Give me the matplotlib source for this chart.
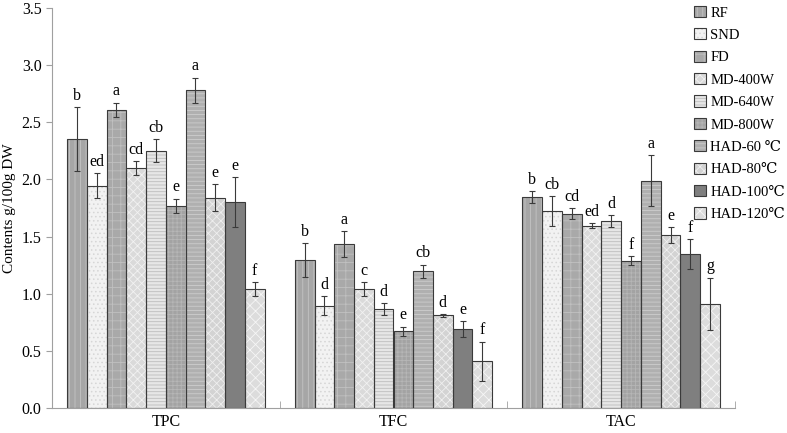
import matplotlib.pyplot as plt
from matplotlib.patches import Patch
from matplotlib.legend_handler import HandlerTuple
import numpy as np

plt.rcParams['font.family'] = ['Liberation Serif', 'DejaVu Serif']
plt.rcParams['hatch.linewidth'] = 0.6

groups = ['TPC', 'TFC', 'TAC']
methods = ['RF', 'SND', 'FD', 'MD-400W', 'MD-640W', 'MD-800W',
           'HAD-60 ℃', 'HAD-80℃', 'HAD-100℃', 'HAD-120℃']

tpc = [2.35, 1.945, 2.61, 2.10, 2.25, 1.77, 2.78, 1.84, 1.80, 1.04]
tpc_err = [0.28, 0.11, 0.06, 0.06, 0.10, 0.06, 0.11, 0.12, 0.22, 0.06]
tpc_letters = ['b', 'ed', 'a', 'cd', 'cb', 'e', 'a', 'e', 'e', 'f']

tfc = [1.295, 0.895, 1.435, 1.04, 0.865, 0.67, 1.195, 0.81, 0.69, 0.41]
tfc_err = [0.145, 0.085, 0.11, 0.06, 0.05, 0.04, 0.06, 0.01, 0.07, 0.17]
tfc_letters = ['b', 'd', 'a', 'c', 'd', 'e', 'cb', 'd', 'e', 'f']

tac = [1.845, 1.725, 1.70, 1.595, 1.635, 1.29, 1.99, 1.51, 1.345, 0.91]
tac_err = [0.05, 0.13, 0.05, 0.02, 0.05, 0.04, 0.22, 0.07, 0.13, 0.23]
tac_letters = ['b', 'cb', 'cd', 'ed', 'd', 'f', 'a', 'e', 'f', 'g']

# fill colour, hatch, hatch colour for each drying method
styles = [
    ('#a6a6a6', '|||', '#c4c4c4'),
    ('#f2f2f2', '....', '#d6d6d6'),
    ('#a9a9a9', '++', '#c0c0c0'),
    ('#dadada', 'xxxx', '#f2f2f2'),
    ('#e6e6e6', '-----', '#bdbdbd'),
    ('#a3a3a3', '++++', '#b6b6b6'),
    ('#b0b0b0', '----', '#cdcdcd'),
    ('#d3d3d3', 'xxxx', '#efefef'),
    ('#7f7f7f', '', '#7f7f7f'),
    ('#dcdcdc', 'xxx', '#f6f6f6'),
]

values = np.array([tpc, tfc, tac])
errors = np.array([tpc_err, tfc_err, tac_err])
letters = [tpc_letters, tfc_letters, tac_letters]

fig = plt.figure(figsize=(7.87, 4.33), dpi=100)
ax = fig.add_axes([0.066, 0.0577, 0.868, 0.924])

x = np.arange(len(groups))
n = len(methods)
w = 0.867 / n
handles = []
for i in range(n):
    pos = x - 0.867 / 2 + w * (i + 0.5)
    fc, hatch, hc = styles[i]
    ax.bar(pos, values[:, i], w, color=fc, hatch=hatch, edgecolor=hc, linewidth=0, zorder=2)
    ax.bar(pos, values[:, i], w, facecolor='none', edgecolor='#3a3a3a', linewidth=0.8, zorder=3)
    ax.errorbar(pos, values[:, i], yerr=errors[:, i], fmt='none', ecolor='#3a3a3a',
                elinewidth=0.8, capsize=2.5, capthick=0.8, zorder=4)
    for j in range(len(groups)):
        ax.text(pos[j], values[j, i] + errors[j, i] + 0.03, letters[j][i],
                ha='center', va='bottom', fontsize=11.5)
    handles.append((Patch(facecolor=fc, hatch=hatch, edgecolor=hc, linewidth=0),
                    Patch(facecolor='none', edgecolor='#3a3a3a', linewidth=0.8)))

ax.set_xlim(-0.5, 2.5)
ax.set_ylim(0, 3.5)
ax.set_yticks(np.arange(0, 3.51, 0.5))
ax.set_yticklabels([f'{v:.1f}' for v in np.arange(0, 3.51, 0.5)], fontsize=11.5)
ax.set_xticks(x)
ax.set_xticklabels(groups, fontsize=11.5)
ax.tick_params(axis='x', length=0, pad=4)
ax.tick_params(axis='y', length=4, color='#a0a0a0', direction='out')
ax.set_xticks([-0.5, 0.5, 1.5, 2.5], minor=True)
ax.tick_params(axis='x', which='minor', length=5, direction='in', color='#a0a0a0')
for s in ['top', 'right']:
    ax.spines[s].set_visible(False)
for s in ['left', 'bottom']:
    ax.spines[s].set_color('#a0a0a0')
ax.set_ylabel('Contents g/100g DW', fontsize=11)

fig.legend(handles, methods, handler_map={tuple: HandlerTuple(ndivide=1, pad=0)},
           loc='upper left', bbox_to_anchor=(0.869, 1.01), frameon=False,
           fontsize=10.5, handlelength=0.8, handleheight=0.8, handletextpad=0.3,
           labelspacing=0.6, borderpad=0.2)

plt.savefig('out.png')
